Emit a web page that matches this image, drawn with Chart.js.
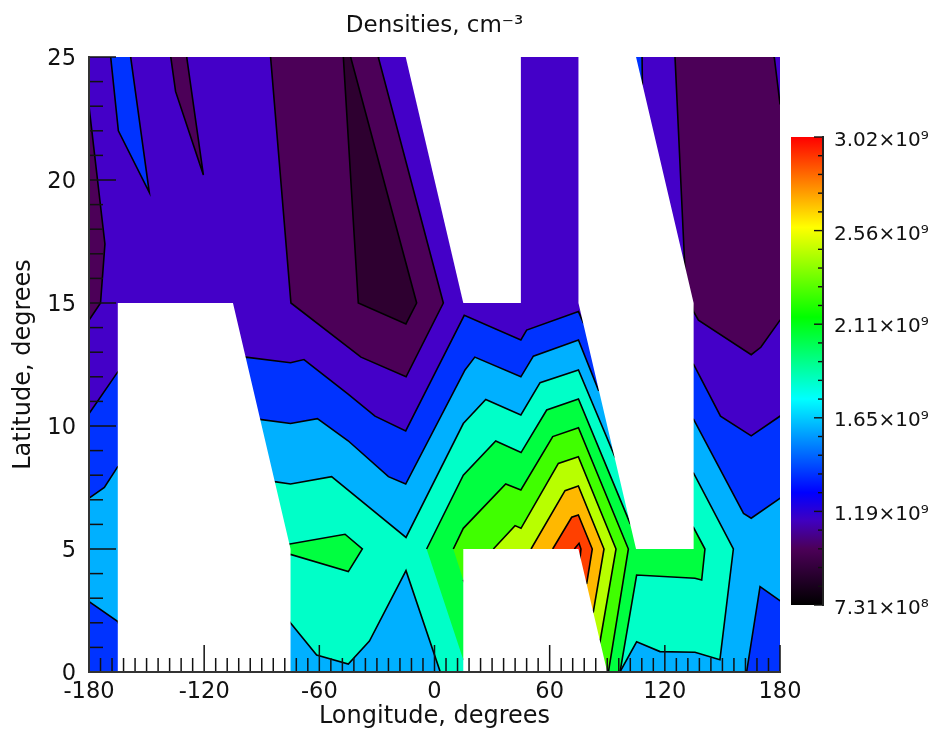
<!DOCTYPE html>
<html>
<head>
<meta charset="utf-8">
<title>Densities</title>
<script src="https://cdn.jsdelivr.net/npm/chart.js@4"></script>
<style>
  body { margin: 0; background: #fff; }
  #wrap { position: relative; width: 933px; height: 733px; }
  #myChart { position: absolute; left: 0; top: 0; }
  #colorBar { position: absolute; left: 760px; top: 100px; }
</style>
</head>
<body>
<div id="wrap">
  <canvas id="myChart" width="933" height="733"></canvas>
  <canvas id="colorBar" width="173" height="540"></canvas>
</div>
<script>
// contour regions, [longitude, latitude].
// they overlap and get painted lowest level first, gaps go on top.
// points past the axes only push the unwanted edge out of the plot
const baseLevel = [[-190, -1], [190, -1], [190, 26], [-190, 26]];
const darkLeft = [[-190, 23], [-180, 23], [-171.7, 17.4], [-174, 15], [-180, 14.3], [-190, 14.3]];
const darkSpike = [[-137.6, 26], [-137.4, 25], [-134.9, 23.6], [-120.4, 20.2], [-129.1, 25], [-129, 26]];
const darkMiddle = [[-85.5, 26], [-85.4, 25], [-74.8, 15], [-38.3, 12.8], [-14.8, 12], [4.6, 15], [-29.3, 25], [-29, 26]];
const darkRight = [[125.2, 26], [125.3, 25], [130.5, 16.3], [135, 14.65], [137.5, 14.3], [165, 12.9], [170, 13.2], [180, 14.3], [190, 14.3], [190, 23.1], [180, 23.1], [177, 25], [176.9, 26]];
const darkest = [[-47.6, 26], [-47.5, 25], [-39.7, 15], [-14.9, 14.15], [-9.3, 15], [-43.7, 25], [-43.6, 26]];
const blueSpike = [[-168.8, 26], [-168.7, 25], [-164.7, 22], [-148.6, 19.5], [-158.3, 25], [-158.2, 26]];
const blueSliver = [[108, 26], [108.3, 23.9], [100, 23.9], [100, 26]];
const blueMain = [[-190, 10.5], [-180, 10.5], [-165, 12.2], [-98.4, 12.8], [-75, 12.57], [-68, 12.7], [-45, 11.3], [-31, 10.4], [-15, 9.8], [15.5, 14.5], [45, 13.5], [48, 13.9], [75, 14.65], [77.5, 14.2], [135, 12.5], [149, 10.4], [165, 9.6], [180, 10.4], [190, 10.4], [190, -1], [-190, -1]];
const cyanMain = [[-190, 7.06], [-180, 7.06], [-172, 7.5], [-165, 8.35], [-91, 10.27], [-75, 10.1], [-61, 10.3], [-45, 9.4], [-24, 7.94], [-15, 7.64], [15.9, 12.28], [21, 12.8], [45, 12], [51.5, 12.84], [75, 13.5], [85.4, 11.46], [135, 10.27], [161, 6.45], [165, 6.25], [180, 7.06], [190, 7.06], [190, 2.9], [180, 2.9], [169.6, 3.47], [162.6, 0], [162.6, -1], [-150, -1], [-165, 2.05], [-180, 2.86], [-190, 2.86]];
const turquoiseMain = [[-83.4, 7.74], [-75, 7.64], [-53.6, 7.94], [-14.85, 5.47], [15, 10.1], [26.7, 11.08], [45, 10.45], [55, 11.76], [75, 12.28], [94, 8.75], [135, 8.08], [155.7, 5], [148.7, 0.5], [135.7, 0.8], [117.5, 0.83], [105.3, 1.23], [96.6, 0], [96.6, -1], [3, -1], [3, 0], [-14.85, 4.12], [-33.9, 1.26], [-44.9, 0.32], [-61.4, 0.69], [-75.3, 2.02], [-90, 4]];
const greenIsland = [[-85, 5.07], [-46.6, 5.6], [-37.6, 5], [-44.9, 4.08], [-75, 4.78], [-85, 4.5]];
const greenMain = [[-4.1, 5], [15, 8], [31.9, 9.39], [45.1, 8.92], [58.45, 10.65], [75, 11.1], [101.9, 6.04], [134.9, 5.88], [140.9, 5], [139.2, 3.74], [135.7, 3.81], [105.3, 3.94], [96.65, 0], [96.65, -1], [40, -1], [40, 2], [15, 0.5]];
const limeGreen = [[9.8, 5], [15, 5.84], [37.1, 7.64], [45, 7.4], [61.6, 9.57], [75, 9.93], [101, 5], [90.6, 0], [90.6, -1], [80, 2], [20, 3], [15, 3.74]];
const yellowGreen = [[30.66, 5], [41.95, 5.95], [45.07, 5.84], [64.52, 8.48], [74.94, 8.75], [94.57, 5], [86.23, 1.23], [80, 2], [30, 4]];
const orangeBand = [[50.3, 5], [68, 7.37], [74.94, 7.56], [88.3, 5], [82.76, 2.45], [75, 3], [50, 4]];
const redBand = [[61.57, 5], [71.47, 6.29], [74.94, 6.38], [82.2, 5], [79.3, 3.6], [75, 3.5], [60, 4]];
const redPeak = [[72.86, 5], [75.3, 5.23], [76.3, 5], [75, 4]];

// no data in these
const gapLeft = [[-165, -1], [-165, 15], [-105, 15], [-75, 5], [-75, -1]];
const gapTop = [[-15, 25], [15, 15], [45, 15], [45, 26], [-15, 26]];
const gapRight = [[75, 26], [75, 15], [105, 5], [135, 5], [135, 15], [105, 25], [105, 26]];
const gapBottom = [[15, -1], [15, 5], [75, 5], [90, 0], [90, -1]];

const levelOrder = [baseLevel, darkLeft, darkSpike, darkMiddle, darkRight, darkest, blueSpike, blueSliver, blueMain, cyanMain, turquoiseMain, greenIsland, greenMain, limeGreen, yellowGreen, orangeBand, redBand, redPeak];
const levelColors = ["#4400c8", "#4c0058", "#4c0058", "#4c0058", "#4c0058", "#2e0030", "#0033ff", "#0033ff", "#0033ff", "#00b0ff", "#00ffc8", "#00ff40", "#00ff40", "#40ff00", "#b8ff00", "#ffb800", "#ff4000", "#ff1000"];
const gaps = [gapLeft, gapTop, gapRight, gapBottom];

const xLabelTicks = [-180, -120, -60, 0, 60, 120, 180];
const yLabelTicks = [0, 5, 10, 15, 20, 25];
const barTicks = [731e6, 1190e6, 1650e6, 2110e6, 2560e6, 3020e6];
const barLabels = ["7.31×10⁸", "1.19×10⁹", "1.65×10⁹", "2.11×10⁹", "2.56×10⁹", "3.02×10⁹"];
const barStops = [0, 0.12, 0.18, 0.24, 0.44, 0.615, 0.807, 1];
const barColors = ["#000000", "#4c0058", "#4000c0", "#0000ff", "#00ffff", "#00ff00", "#ffff00", "#ff0000"];

const FONT = "'DejaVu Sans'";
const AXIS_COLOR = "#333";

function toPoints(list) {
  return list.map(p => ({ x: p[0], y: p[1] }));
}

function regionDataset(list, color, lineWidth, order) {
  return {
    data: toPoints(list),
    showLine: true,
    pointRadius: 0,
    tension: 0,
    fill: "shape",
    backgroundColor: color,
    borderColor: "#000",
    borderWidth: lineWidth,
    order: order,
  };
}

// chart.js draws the highest order first
function buildDatasets() {
  const sets = [];
  const total = levelOrder.length + gaps.length;
  levelOrder.forEach((list, i) => {
    sets.push(regionDataset(list, levelColors[i], i === 0 ? 0 : 1.6, total - i));
  });
  gaps.forEach((list, i) => {
    sets.push(regionDataset(list, "#ffffff", 0, gaps.length - i));
  });
  return sets;
}

function strokeTick(ctx, x1, y1, x2, y2) {
  ctx.beginPath();
  ctx.moveTo(x1, y1);
  ctx.lineTo(x2, y2);
  ctx.stroke();
}

const plotTicks = {
  id: "plotTicks",
  afterDatasetsDraw(chart) {
    const ctx = chart.ctx;
    const xs = chart.scales.x;
    const ys = chart.scales.y;
    const area = chart.chartArea;
    ctx.save();
    ctx.strokeStyle = "#111";
    ctx.lineWidth = 1.5;
    for (let v = -180; v <= 180; v += 6) {
      const len = v % 60 === 0 ? 27 : 14;
      strokeTick(ctx, xs.getPixelForValue(v), area.bottom, xs.getPixelForValue(v), area.bottom - len);
    }
    for (let v = 0; v <= 25; v += 1) {
      const len = v % 5 === 0 ? 27 : 14;
      strokeTick(ctx, area.left, ys.getPixelForValue(v), area.left + len, ys.getPixelForValue(v));
    }
    ctx.restore();
  },
};

const barInnerTicks = {
  id: "barInnerTicks",
  afterDatasetsDraw(chart) {
    const ctx = chart.ctx;
    const ys = chart.scales.y;
    const right = chart.chartArea.right;
    const step = (barTicks[5] - barTicks[0]) / 25;
    ctx.save();
    ctx.strokeStyle = "#111";
    ctx.lineWidth = 1.4;
    for (let i = 0; i <= 25; i++) {
      const py = ys.getPixelForValue(barTicks[0] + step * i);
      strokeTick(ctx, right, py, right - (i % 5 === 0 ? 9 : 5), py);
    }
    ctx.restore();
  },
};

function createPlot() {
  new Chart(document.getElementById("myChart"), {
    type: "scatter",
    data: { datasets: buildDatasets() },
    plugins: [plotTicks],
    options: {
      responsive: false,
      animation: false,
      layout: { autoPadding: false, padding: { right: 153 } },
      plugins: {
        legend: { display: false },
        tooltip: { enabled: false },
        title: {
          display: true,
          text: "Densities, cm⁻³",
          fullSize: false,
          color: "#111",
          font: { family: FONT, size: 23, weight: "normal" },
          padding: { top: 12, bottom: 17.4 },
        },
      },
      scales: {
        x: {
          type: "linear",
          min: -180,
          max: 180,
          afterBuildTicks: scale => { scale.ticks = xLabelTicks.map(v => ({ value: v })); },
          afterFit: scale => { scale.height = 61; },
          grid: { display: false, drawTicks: false },
          border: { display: true, color: AXIS_COLOR, width: 2, z: 1 },
          ticks: { color: "#111", padding: 6.5, maxRotation: 0, autoSkip: false, font: { family: FONT, size: 22.5 } },
          title: { display: true, text: "Longitude, degrees", color: "#111", font: { family: FONT, size: 24 }, padding: { top: 0, bottom: 2 } },
        },
        y: {
          type: "linear",
          min: 0,
          max: 25,
          afterBuildTicks: scale => { scale.ticks = yLabelTicks.map(v => ({ value: v })); },
          afterFit: scale => { scale.width = 89; },
          grid: { display: false, drawTicks: false },
          border: { display: true, color: AXIS_COLOR, width: 2, z: 1 },
          ticks: { color: "#111", padding: 13, autoSkip: false, labelOffset: 2, font: { family: FONT, size: 22.5 } },
          title: { display: true, text: "Latitude, degrees", color: "#111", font: { family: FONT, size: 24 }, padding: { top: 9.5, bottom: 0 } },
        },
      },
    },
  });
}

function barGradient(context) {
  const area = context.chart.chartArea;
  if (!area) return barColors[0];
  const gradient = context.chart.ctx.createLinearGradient(0, area.bottom, 0, area.top);
  barStops.forEach((stop, i) => gradient.addColorStop(stop, barColors[i]));
  return gradient;
}

function createColorBar() {
  new Chart(document.getElementById("colorBar"), {
    type: "bar",
    data: {
      labels: ["Densities"],
      datasets: [{
        data: [[barTicks[0], barTicks[5]]],
        backgroundColor: barGradient,
        barPercentage: 1,
        categoryPercentage: 1,
      }],
    },
    plugins: [barInnerTicks],
    options: {
      responsive: false,
      animation: false,
      layout: { autoPadding: false, padding: { left: 31, top: 37, bottom: 35 } },
      plugins: { legend: { display: false }, tooltip: { enabled: false } },
      scales: {
        x: { display: false },
        y: {
          position: "right",
          min: barTicks[0],
          max: barTicks[5],
          afterBuildTicks: scale => { scale.ticks = barTicks.map(v => ({ value: v })); },
          afterFit: scale => { scale.width = 110; },
          grid: { display: false, drawTicks: false },
          border: { display: true, color: "#222", width: 2, z: 1 },
          ticks: {
            color: "#111",
            padding: 11,
            autoSkip: false,
            labelOffset: 4,
            font: { family: FONT, size: 20 },
            callback: (value, index) => barLabels[index],
          },
        },
      },
    },
  });
}

createPlot();
createColorBar();
</script>
</body>
</html>
